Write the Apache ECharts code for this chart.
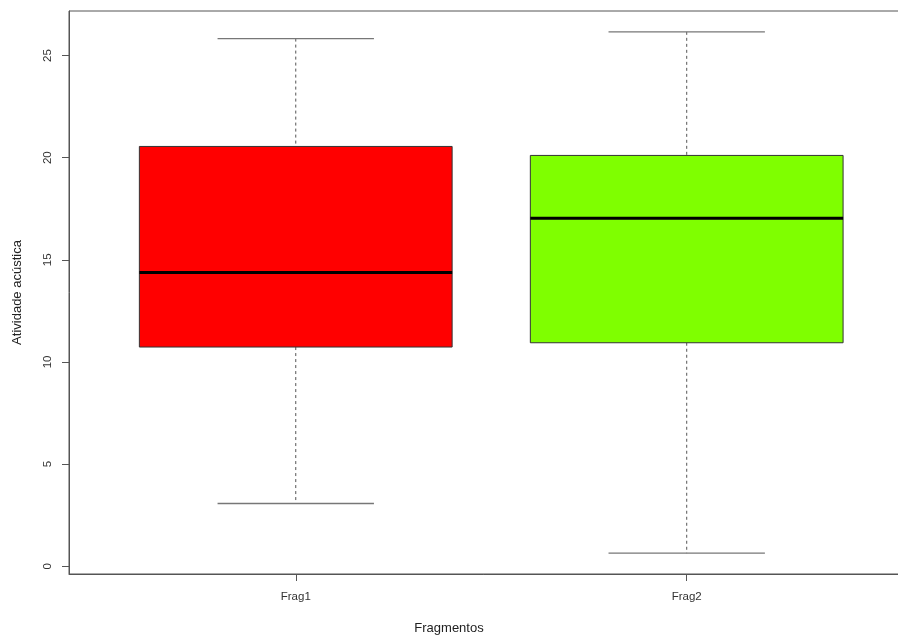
<!DOCTYPE html>
<html>
<head>
<meta charset="utf-8">
<script src="https://cdn.jsdelivr.net/npm/echarts@6/dist/echarts.min.js"></script>
<style>html,body{margin:0;padding:0;background:#fff}#c{width:898px;height:635px}</style>
</head>
<body>
<div id="c"></div>
<script>
var categories = ['Frag1', 'Frag2'];
var positions = [1, 2];
var whiskerLow = [3.07, 0.64];
var q1 = [10.73, 10.94];
var medians = [14.38, 17.03];
var q3 = [20.55, 20.11];
var whiskerHigh = [25.83, 26.16];
var boxColors = ['#FF0000', '#7FFF00'];
var yTicks = [0, 5, 10, 15, 20, 25];

var rows = positions.map(function (p, i) {
  return [p, whiskerLow[i], q1[i], medians[i], q3[i], whiskerHigh[i]];
});

var chart = echarts.init(document.getElementById('c'), null, {renderer: 'canvas'});
var font = 'Liberation Sans, Arial, sans-serif';

chart.setOption({
  animation: false,
  backgroundColor: '#fff',
  grid: {left: 69, top: 11, right: -1, bottom: 61, show: true, borderColor: '#555', borderWidth: 1,
    containLabel: false, outerBoundsMode: 'none'},
  xAxis: {
    type: 'value', min: 0.42, max: 2.543,
    name: 'Fragmentos', nameLocation: 'middle', nameGap: 48,
    nameTextStyle: {fontFamily: font, fontSize: 13, color: '#222', padding: [0, 70, 0, 0]},
    splitLine: {show: false},
    axisLine: {show: true, onZero: false, lineStyle: {color: '#555', width: 1}},
    axisTick: {show: true, length: 7, inside: false, customValues: positions, lineStyle: {color: '#555'}},
    axisLabel: {
      customValues: positions, margin: 17, fontFamily: font, fontSize: 11.5, color: '#333',
      formatter: function (v) { var i = positions.indexOf(v); return i >= 0 ? categories[i] : ''; }
    }
  },
  yAxis: {
    type: 'value', min: -0.38, max: 27.18,
    name: 'Atividade acústica', nameLocation: 'middle', nameGap: 45, nameRotate: 90,
    nameTextStyle: {fontFamily: font, fontSize: 13, color: '#222'},
    splitLine: {show: false},
    axisLine: {show: true, onZero: false, lineStyle: {color: '#555', width: 1}},
    axisTick: {show: true, length: 7, customValues: yTicks, lineStyle: {color: '#555'}},
    axisLabel: {customValues: yTicks, rotate: 90, margin: 15, fontFamily: font, fontSize: 11.5, color: '#333'}
  },
  series: [{
    type: 'custom',
    data: rows,
    encode: {x: 0, y: [1, 2, 3, 4, 5]},
    renderItem: function (params, api) {
      var i = params.dataIndex;
      var x = api.value(0);
      var lo = api.value(1), a = api.value(2), m = api.value(3), b = api.value(4), hi = api.value(5);
      var half = 0.4, capHalf = 0.2;
      var pLo = api.coord([x, lo]), pA = api.coord([x, a]), pB = api.coord([x, b]), pHi = api.coord([x, hi]);
      var boxL = api.coord([x - half, b]), boxR = api.coord([x + half, a]);
      var mL = api.coord([x - half, m]), mR = api.coord([x + half, m]);
      var cL = api.coord([x - capHalf, lo])[0], cR = api.coord([x + capHalf, lo])[0];
      var wStyle = {stroke: '#555', lineWidth: 1, lineDash: [3, 3]};
      var cStyle = {stroke: '#777', lineWidth: 1.3};
      return {
        type: 'group',
        children: [
          {type: 'line', shape: {x1: pHi[0], y1: pHi[1], x2: pB[0], y2: pB[1]}, style: wStyle},
          {type: 'line', shape: {x1: pA[0], y1: pA[1], x2: pLo[0], y2: pLo[1]}, style: wStyle},
          {type: 'line', shape: {x1: cL, y1: pHi[1], x2: cR, y2: pHi[1]}, style: cStyle},
          {type: 'line', shape: {x1: cL, y1: pLo[1], x2: cR, y2: pLo[1]}, style: cStyle},
          {type: 'rect', shape: {x: boxL[0], y: boxL[1], width: boxR[0] - boxL[0], height: boxR[1] - boxL[1]},
            style: {fill: boxColors[i], stroke: '#333', lineWidth: 1}},
          {type: 'line', shape: {x1: mL[0], y1: mL[1], x2: mR[0], y2: mR[1]}, style: {stroke: '#000', lineWidth: 3}}
        ]
      };
    }
  }]
});
</script>
</body>
</html>
